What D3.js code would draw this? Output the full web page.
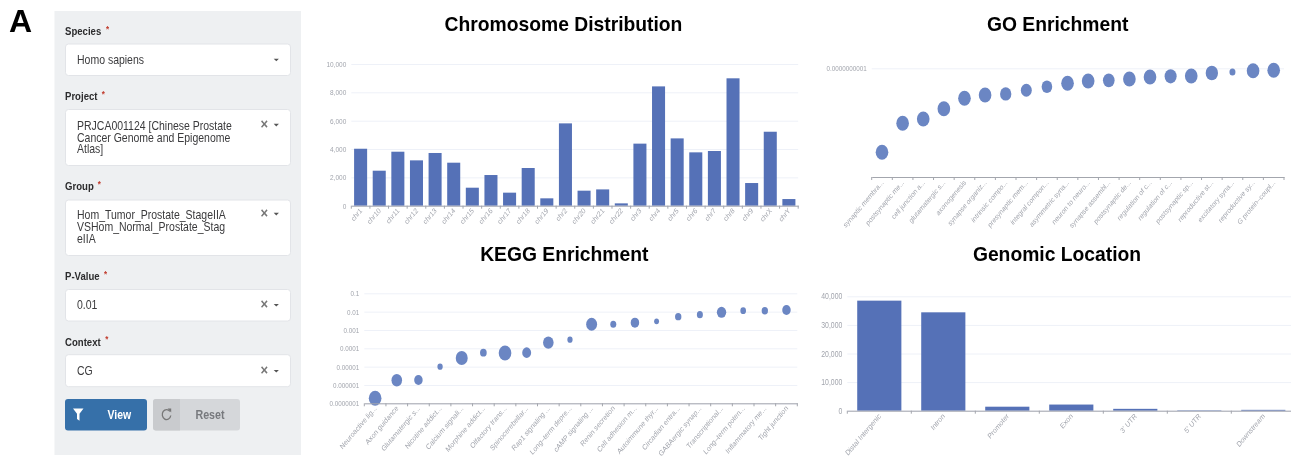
<!DOCTYPE html>
<html><head><meta charset="utf-8">
<script src="https://cdn.jsdelivr.net/npm/d3@7/dist/d3.min.js"></script>
<style>html,body{margin:0;padding:0;background:#fff;overflow:hidden}svg{display:block;font-family:"Liberation Sans",Arial,sans-serif;filter:blur(.3px)}</style>
</head><body><svg id="c" width="1291" height="465"></svg>
<script>
const chrCategories=["chr1","chr10","chr11","chr12","chr13","chr14","chr15","chr16","chr17","chr18","chr19","chr2","chr20","chr21","chr22","chr3","chr4","chr5","chr6","chr7","chr8","chr9","chrX","chrY"];
const chrValues=[4020,2470,3810,3200,3720,3035,1270,2165,920,2660,520,5810,1060,1150,165,4380,8420,4750,3765,3860,8990,1600,5220,470];
const chrTicks=[0,2000,4000,6000,8000,10000];

const goTerms=["synaptic membra...","postsynaptic me...","cell junction a...","glutamatergic s...","axonogenesis","synapse organiz...","intrinsic compo...","presynaptic mem...","integral compon...","asymmetric syna...","neuron to neuro...","synapse assembl...","postsynaptic de...","regulation of c...","regulation of c...","postsynaptic sp...","reproductive st...","excitatory syna...","reproductive sy...","G protein–coupl..."];
const goPValues=[1.69e-11,3.12e-11,3.42e-11,4.25e-11,5.3e-11,5.68e-11,5.81e-11,6.28e-11,6.77e-11,7.28e-11,7.64e-11,7.76e-11,7.98e-11,8.32e-11,8.44e-11,8.5e-11,9.05e-11,9.25e-11,9.5e-11,9.59e-11];
const goCounts=[40,40,40,40,40,40,32,30,28,40,40,34,40,40,36,40,38,9,40,40];
const goTicks=[1e-10];

const keggTerms=["Neuroactive lig...","Axon guidance","Glutamatergic s...","Nicotine addict...","Calcium signali...","Morphine addict...","Olfactory trans...","Spinocerebellar...","Rap1 signaling ...","Long–term depre...","cAMP signaling ...","Renin secretion","Cell adhesion m...","Autoimmune thyr...","Circadian entra...","GABAergic synap...","Transcriptional...","Long–term poten...","Inflammatory me...","Tight junction"];
const keggPValues=[1.87e-7,1.8e-6,1.87e-6,1e-5,2.97e-5,5.8e-5,5.56e-5,5.8e-5,2.04e-4,2.97e-4,2.04e-3,2.04e-3,2.51e-3,2.97e-3,5.33e-3,6.86e-3,9.2e-3,1.13e-2,1.13e-2,1.23e-2];
const keggCounts=[40,28,18,7,36,11,40,20,28,7,30,9,18,6,10,9,22,8,10,18];
const keggTicks=[1e-7,1e-6,1e-5,1e-4,1e-3,1e-2,1e-1];

const locCategories=["Distal Intergenic","Intron","Promoter","Exon","3' UTR","5' UTR","Downstream"];
const locValues=[38480,34400,1400,2150,650,150,300];
const locTicks=[0,10000,20000,30000,40000];

const formLabels=["Species","Project","Group","P-Value","Context"];
const formValues=[["Homo sapiens"],["PRJCA001124 [Chinese Prostate","Cancer Genome and Epigenome","Atlas]"],["Hom_Tumor_Prostate_StageIIA","VSHom_Normal_Prostate_Stag","eIIA"],["0.01"],["CG"]];
const chartTitles=["Chromosome Distribution","GO Enrichment","KEGG Enrichment","Genomic Location"];

const STRETCH=1.18, BLUE="#5571b7", BUB="#6b86c3", GRID="#eef1f8", AX="#a3a6ad", TXT="#a2a5ad";
const svg=d3.select("#c");
const fmtComma=d3.format(",");

svg.append("text").attr("x",9).attr("y",32).attr("font-size",32).attr("font-weight",700).attr("fill","#000").text("A");

// ---------- form panel
const P=svg.append("g");
P.append("rect").attr("x",54.5).attr("y",11).attr("width",246.5).attr("height",444).attr("fill","#eef0f2");
function st(g,x,y,s,size,weight,fill,anchor){
  return g.append("text").attr("transform",`translate(${x},${y}) scale(1,${STRETCH})`)
    .attr("font-size",size).attr("font-weight",weight||400).attr("fill",fill||"#333").attr("text-anchor",anchor||"start").text(s);
}
const formRows=[
 {lab:35,top:44,bot:75.5,base:[63.5],star:106,clear:false},
 {lab:100,top:109.5,bot:165.5,base:[130,141.7,153.3],star:101.7,clear:true},
 {lab:190,top:200,bot:255.5,base:[219,230.7,243.3],star:97.7,clear:true},
 {lab:280,top:289.5,bot:321,base:[308.7],star:104,clear:true},
 {lab:345.7,top:354.7,bot:386.7,base:[374.7],star:105.3,clear:true}];
formRows.forEach((r,i)=>{
  st(P,65,r.lab,formLabels[i],9.6,700,"#2c2c2e");
  st(P,r.star,r.lab-3.5,"*",8,700,"#c0392b");
  P.append("rect").attr("x",65.5).attr("y",r.top).attr("width",225).attr("height",r.bot-r.top).attr("rx",3).attr("fill","#fff").attr("stroke","#e2e4e8");
  formValues[i].forEach((t,j)=>st(P,77,r.base[j],t,10.5,400,"#3a3a3c"));
  const cy=r.base[0]-(r.base.length>1?5:3.6);
  P.append("path").attr("d",`M273.7 ${cy-1.2}h5.2l-2.6 2.6z`).attr("fill","#555");
  if(r.clear) st(P,264.3,cy+4,"×",13,700,"#777","middle");
});
P.append("rect").attr("x",65).attr("y",399).attr("width",82).attr("height",31.5).attr("rx",3).attr("fill","#3670a9");
P.append("path").attr("d","M73 408.5h10.5l-4 5.2v7l-2.5 -1.6v-5.4z").attr("fill","#fff");
st(P,119.3,419,"View",10.5,700,"#fff","middle");
P.append("rect").attr("x",153).attr("y",399).attr("width",87).attr("height",31.5).attr("rx",3).attr("fill","#d5d7da");
P.append("path").attr("d","M156 399h24v31.5h-24a3 3 0 0 1 -3 -3v-25.5a3 3 0 0 1 3 -3z").attr("fill","#c9cbce");
P.append("path").attr("d","M170 411.5a4.3 5 0 1 0 .8 4").attr("fill","none").attr("stroke","#777").attr("stroke-width",1.3);
P.append("path").attr("d","M167.6 408.5h3.6v4z").attr("fill","#777");
st(P,210,419,"Reset",10.7,700,"#77797d","middle");

// ---------- titles
[[563.5,30.7],[1057.7,30.7],[564.3,260.7],[1057,260.7]].forEach((p,i)=>{
  svg.append("text").attr("x",p[0]).attr("y",p[1]).attr("text-anchor","middle").attr("font-size",19.3).attr("font-weight",700).attr("fill","#000").text(chartTitles[i]);
});

// ---------- generic chart frame
function frame(cfg){
  const g=svg.append("g");
  const x=d3.scaleBand().domain(d3.range(cfg.labels.length)).range([cfg.x0,cfg.x1]);
  const gy=g.append("g").attr("transform",`translate(${cfg.x0},0)`)
    .call(d3.axisLeft(cfg.y).tickValues(cfg.ticks).tickSize(0).tickPadding(5).tickFormat(cfg.fmt));
  gy.select(".domain").remove();
  gy.selectAll(".tick line").attr("x2",Math.min(cfg.x1,1291)-cfg.x0).attr("stroke",GRID).attr("stroke-width",1);
  gy.selectAll(".tick text").each(function(){
    const t=d3.select(this); t.attr("dy",null).attr("x",null);
    t.attr("transform",`translate(-5,2.6) scale(1,${STRETCH})`).attr("font-size",cfg.yFont).attr("fill",TXT)
     .attr("font-family","Liberation Sans").attr("text-anchor","end");
  });
  const gx=svg.append("g").attr("transform",`translate(0,${cfg.base})`)
    .call(d3.axisBottom(x).tickSize(0).tickFormat(i=>cfg.labels[i]));
  gx.select(".domain").attr("stroke",AX).attr("stroke-width",1);
  gx.selectAll(".tick line").remove();
  gx.selectAll(".tick").append("line").attr("x1",-x.step()/2).attr("x2",-x.step()/2).attr("y2",3).attr("stroke",AX);
  gx.append("line").attr("x1",cfg.x1).attr("x2",cfg.x1).attr("y2",3).attr("stroke",AX);
  gx.selectAll(".tick text").attr("y",null).attr("dy",null)
    .attr("transform",`translate(2,${cfg.labOff}) scale(1,${STRETCH}) rotate(-45)`)
    .attr("text-anchor","end").attr("font-size",cfg.xFont).attr("fill",TXT).attr("font-family","Liberation Sans");
  return {g,x};
}
function bars(cfg,values){
  const {g,x}=frame(cfg);
  x.paddingInner(cfg.pad).paddingOuter(cfg.pad/2);
  g.selectAll("rect.b").data(values).join("rect").attr("class","b")
    .attr("x",(d,i)=>x(i)).attr("width",x.bandwidth())
    .attr("y",d=>cfg.y(d)).attr("height",d=>cfg.y(0)-cfg.y(d)).attr("fill",BLUE);
}
const rScale=d3.scaleSqrt().domain([0,100]).range([0,10]);
function bubbles(cfg,values,counts){
  const {g,x}=frame(cfg);
  g.selectAll("ellipse").data(values).join("ellipse")
    .attr("cx",(d,i)=>x(i)+x.bandwidth()/2).attr("cy",d=>cfg.y(d))
    .attr("rx",(d,i)=>rScale(counts[i])).attr("ry",(d,i)=>rScale(counts[i])*STRETCH)
    .attr("fill",BUB);
}

bars({labels:chrCategories,x0:351.3,x1:798.2,base:205.7,
  y:d3.scaleLinear().domain([0,10000]).range([205.7,64]),ticks:chrTicks,fmt:fmtComma,yFont:6.5,xFont:6.5,labOff:5.5,pad:0.3},chrValues);

bubbles({labels:goTerms,x0:871.7,x1:1284,base:177,
  y:d3.scaleLog().domain([1e-11,1e-10]).range([177,68.3]),ticks:goTicks,fmt:d=>d.toFixed(10),yFont:6.3,xFont:6.4,labOff:6,pad:0},goPValues,goCounts);

bubbles({labels:keggTerms,x0:364.3,x1:797.3,base:403.3,
  y:d3.scaleLog().domain([1e-7,1e-1]).range([403.3,293.3]),ticks:keggTicks,fmt:d=>d.toFixed(Math.round(-Math.log10(d))),yFont:6.3,xFont:6.6,labOff:5.5,pad:0},keggPValues,keggCounts);

bars({labels:locCategories,x0:847.3,x1:1295.3,base:410.7,
  y:d3.scaleLinear().domain([0,40000]).range([410.7,296.3]),ticks:locTicks,fmt:fmtComma,yFont:6.9,xFont:6.6,labOff:6,pad:0.31},locValues);
</script></body></html>
